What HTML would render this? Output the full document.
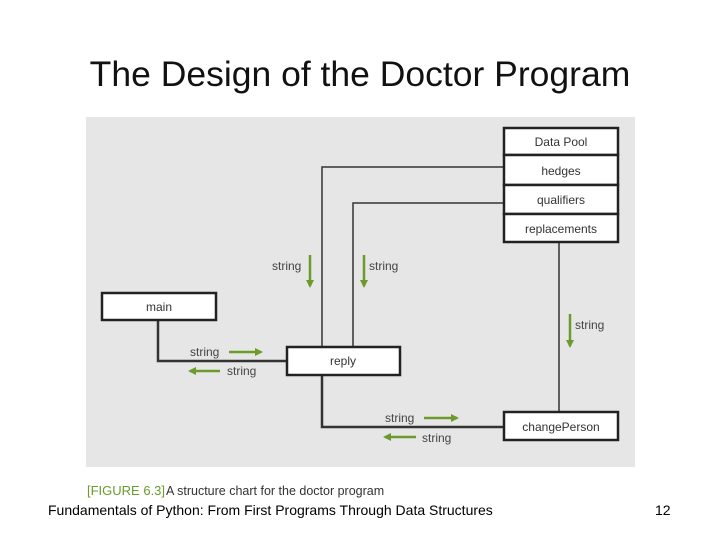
<!DOCTYPE html>
<html><head><style>
body{margin:0;width:720px;height:540px;background:#fff;position:relative;overflow:hidden;font-family:"Liberation Sans",sans-serif}
.t{position:absolute;left:0;width:720px;text-align:center;top:54px;font-size:35.5px;color:#111}
.f{position:absolute;top:502px;font-size:14px;color:#000}
</style></head><body>
<div class="t">The Design of the Doctor Program</div>
<svg width="720" height="540" style="position:absolute;left:0;top:0" font-family="Liberation Sans, sans-serif">
<defs><marker id="a" markerWidth="8" markerHeight="8" refX="6" refY="4" orient="auto" markerUnits="userSpaceOnUse"><path d="M0,0 L8,4 L0,8 Z" fill="#6a9b2c"/></marker></defs>
<rect x="86" y="117" width="549" height="350" fill="#e6e6e6"/>
<g stroke="#333" fill="none">
<path d="M503,167 H322 V346" stroke-width="1.5"/>
<path d="M503,203 H353 V346" stroke-width="1.5"/>
<path d="M559,243 V411" stroke-width="1.5"/>
<path d="M158,321 V361 H286" stroke-width="2.5"/>
<path d="M322,376 V427 H503" stroke-width="2.5"/>
</g>
<g fill="#fff" stroke="#222" stroke-width="2.5">
<rect x="504" y="128" width="114" height="27"/>
<rect x="504" y="155" width="114" height="30"/>
<rect x="504" y="185" width="114" height="29"/>
<rect x="504" y="214" width="114" height="28"/>
<rect x="102" y="293" width="114" height="27"/>
<rect x="287" y="347" width="113" height="28"/>
<rect x="504" y="412" width="114" height="28"/>
</g>
<g font-size="12" fill="#333" text-anchor="middle">
<text x="561" y="146">Data Pool</text>
<text x="561" y="175">hedges</text>
<text x="561" y="204">qualifiers</text>
<text x="561" y="233">replacements</text>
<text x="159" y="311">main</text>
<text x="343" y="365">reply</text>
<text x="561" y="431">changePerson</text>
</g>
<g font-size="12" fill="#444">
<text x="272" y="270">string</text>
<text x="369" y="270">string</text>
<text x="575" y="329">string</text>
<text x="190" y="356">string</text>
<text x="227" y="375">string</text>
<text x="385" y="422">string</text>
<text x="422" y="442">string</text>
</g>
<g stroke="#6a9b2c" stroke-width="2.5" fill="none">
<path d="M310,255 V286" marker-end="url(#a)"/>
<path d="M364,255 V286" marker-end="url(#a)"/>
<path d="M570,314 V346" marker-end="url(#a)"/>
<path d="M229,352 H261" marker-end="url(#a)"/>
<path d="M220,371 H190" marker-end="url(#a)"/>
<path d="M424,418 H457" marker-end="url(#a)"/>
<path d="M416,437 H385" marker-end="url(#a)"/>
</g>
<text x="87" y="495" font-size="13" fill="#6a9b2c">[FIGURE 6.3]</text>
<text x="166" y="495" font-size="12.5" fill="#333">A structure chart for the doctor program</text>
</svg>
<div class="f" style="left:48px">Fundamentals of Python: From First Programs Through Data Structures</div>
<div class="f" style="left:655px">12</div>
</body></html>
